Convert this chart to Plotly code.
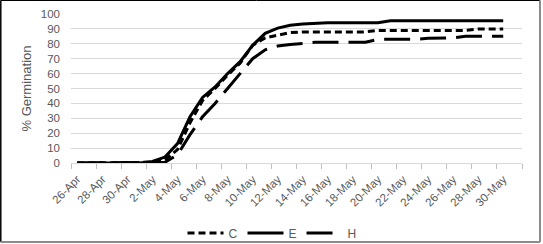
import plotly.graph_objects as go

dates = ["26-Apr", "27-Apr", "28-Apr", "29-Apr", "30-Apr", "1-May", "2-May", "3-May",
         "4-May", "5-May", "6-May", "7-May", "8-May", "9-May", "10-May", "11-May",
         "12-May", "13-May", "14-May", "15-May", "16-May", "17-May", "18-May", "19-May",
         "20-May", "21-May", "22-May", "23-May", "24-May", "25-May", "26-May", "27-May",
         "28-May", "29-May", "30-May"]

C = [0, 0, 0, 0, 0, 0, 0.5, 2, 9, 27, 42, 50, 59, 67, 79, 84, 86, 87.5,
     88, 88, 88, 88, 88, 88, 89, 89, 89, 89, 89, 89, 89, 89, 90, 90, 90]
E = [0, 0, 0, 0, 0, 0, 1, 4, 13, 31, 44, 51, 60, 68, 79, 87, 90.5, 92.5,
     93.3, 93.8, 94.2, 94.2, 94.2, 94.2, 94.2, 95.5, 95.5, 95.5, 95.5, 95.5, 95.5, 95.5, 95.5, 95.5, 95.5]
H = [0, 0, 0, 0, 0, 0, 0, 0.5, 5.5, 19, 31, 40, 50, 60, 70, 76, 78.5, 79.5,
     80.5, 81, 81, 81, 81, 81, 83, 83, 83, 83, 83.7, 84, 84, 85, 85, 85, 85]

series = [("C", C, "7px,4px"), ("E", E, "solid"), ("H", H, "26px,10px")]

xs = list(range(len(dates)))
tick_idx = xs[0::2]
tick_txt = dates[0::2]

fig = go.Figure()
for name, vals, dash in series:
    fig.add_trace(go.Scatter(x=xs, y=vals, name=name, mode="lines",
                             line=dict(color="black", width=3, dash=dash)))

W, H_ = 543, 244
ml, mr, mt, mb = 71, 21, 14, 81
pw = W - ml - mr
ph = H_ - mt - mb

def px2paper_x(px):
    return (px - ml) / pw

def px2paper_y(py):
    return (H_ - mb - py) / ph

shapes = [
    dict(type="line", xref="paper", yref="paper", x0=px2paper_x(0.5), x1=px2paper_x(540),
         y0=px2paper_y(0.5), y1=px2paper_y(0.5), line=dict(color="black", width=1)),
    dict(type="line", xref="paper", yref="paper", x0=px2paper_x(0.8), x1=px2paper_x(0.8),
         y0=px2paper_y(0.5), y1=px2paper_y(242), line=dict(color="black", width=1.5)),
    dict(type="line", xref="paper", yref="paper", x0=px2paper_x(540), x1=px2paper_x(540),
         y0=px2paper_y(0.5), y1=px2paper_y(242), line=dict(color="#8c8c8c", width=2)),
    dict(type="line", xref="paper", yref="paper", x0=px2paper_x(0.5), x1=px2paper_x(540),
         y0=px2paper_y(242), y1=px2paper_y(242), line=dict(color="#8c8c8c", width=2)),
]

fig.update_layout(
    width=W, height=H_,
    margin=dict(l=ml, r=mr, t=mt, b=mb, pad=0, autoexpand=False),
    paper_bgcolor="white", plot_bgcolor="white",
    font=dict(family="Liberation Sans, Arial, sans-serif", size=11, color="#595959"),
    showlegend=True,
    legend=dict(orientation="h", x=px2paper_x(272), xanchor="center",
                y=px2paper_y(233), yanchor="middle",
                font=dict(size=12, color="#595959"), itemwidth=36,
                bgcolor="rgba(0,0,0,0)"),
    xaxis=dict(range=[-0.5, 35.5], tickmode="array", tickvals=tick_idx, ticktext=tick_txt,
               tickangle=-45, showgrid=False, zeroline=False, showline=True,
               linecolor="#d9d9d9", linewidth=1, ticks="", automargin=False,
               ticklabelstandoff=4,
               minor=dict(tickmode="linear", tick0=-0.5, dtick=2, ticks="outside",
                          ticklen=5, tickcolor="#bfbfbf", tickwidth=1, showgrid=False),
               tickfont=dict(size=11.5, color="#595959"), fixedrange=True),
    yaxis=dict(range=[0, 100], tickmode="linear", tick0=0, dtick=10, showgrid=True,
               gridcolor="#d9d9d9", gridwidth=1, zeroline=False, showline=False,
               ticks="", ticklabelstandoff=10, automargin=False,
               title=dict(text="% Germination", font=dict(size=13, color="#595959"), standoff=6),
               tickfont=dict(size=11.5, color="#595959"), fixedrange=True),
    shapes=shapes,
)

fig.write_html("out.html")
